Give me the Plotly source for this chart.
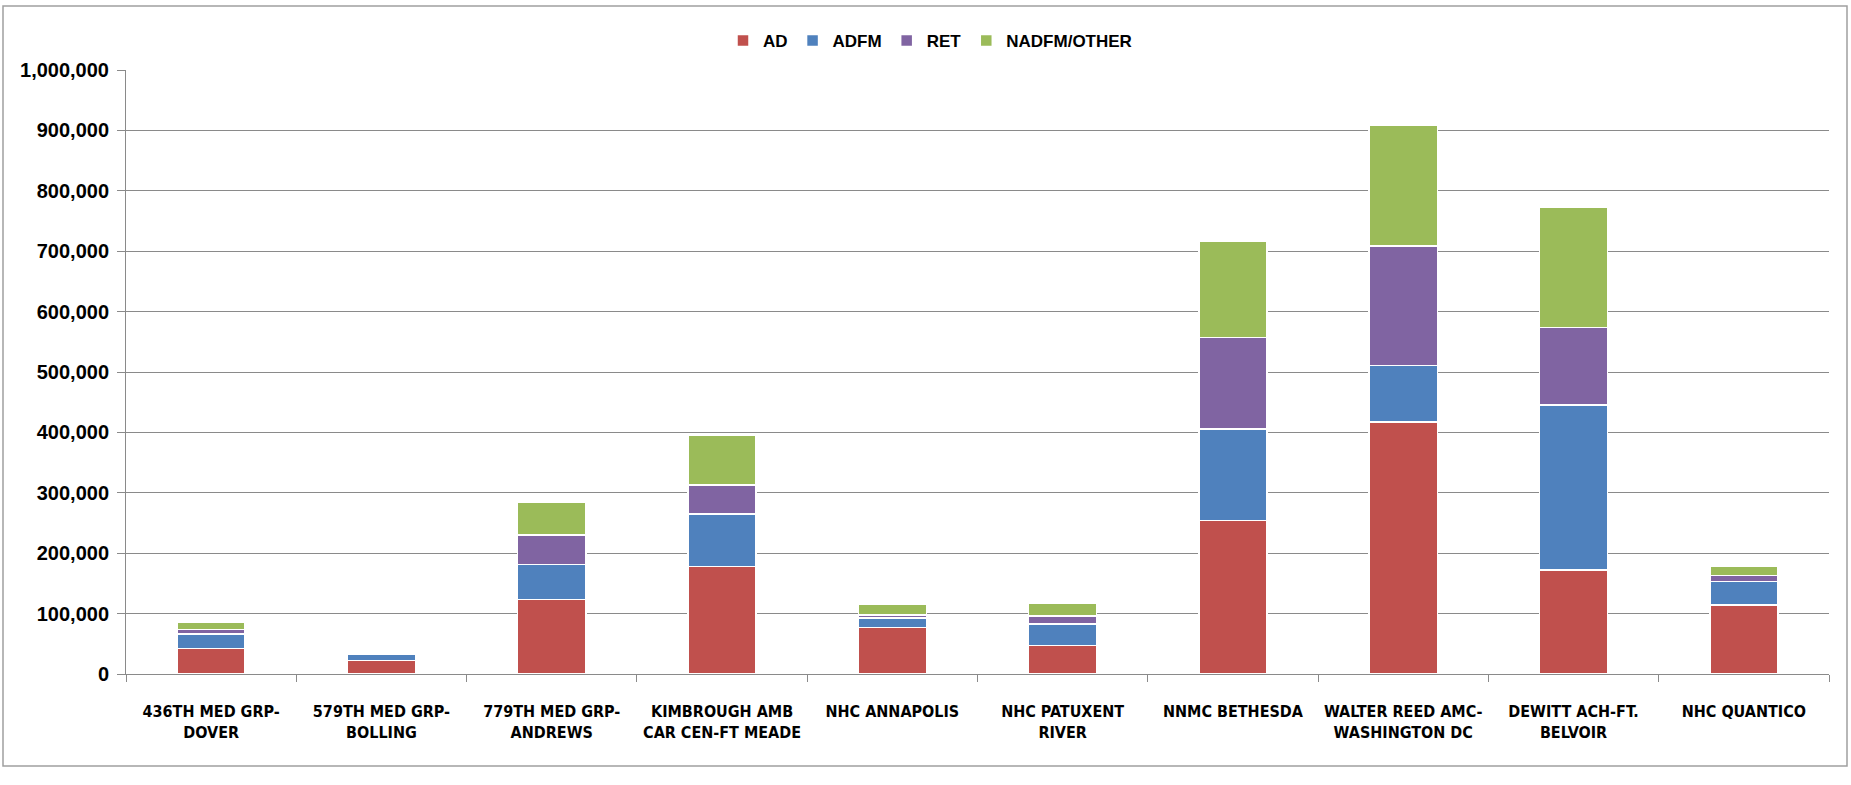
import plotly.graph_objects as go

categories = [
    "436TH MED GRP-<br>DOVER",
    "579TH MED GRP-<br>BOLLING",
    "779TH MED GRP-<br>ANDREWS",
    "KIMBROUGH AMB<br>CAR CEN-FT MEADE",
    "NHC ANNAPOLIS",
    "NHC PATUXENT<br>RIVER",
    "NNMC BETHESDA",
    "WALTER REED AMC-<br>WASHINGTON DC",
    "DEWITT ACH-FT.<br>BELVOIR",
    "NHC QUANTICO",
]
ad = [42000, 22000, 123000, 178000, 77000, 47000, 254000, 417000, 172000, 114000]
adfm = [24000, 11000, 58000, 87000, 16000, 36000, 152000, 94000, 273000, 39000]
ret = [8000, 0, 49000, 48000, 5000, 13000, 151000, 198000, 129000, 10000]
nadfm_other = [11000, 0, 55000, 82000, 17000, 21000, 159000, 200000, 199000, 16000]

series_names = ["AD", "ADFM", "RET", "NADFM/OTHER"]
series_values = [ad, adfm, ret, nadfm_other]
colors = ["#C0504D", "#4F81BD", "#8064A2", "#9BBB59"]

y_ticks = [0, 100000, 200000, 300000, 400000, 500000, 600000, 700000, 800000, 900000, 1000000]
y_ticktext = ["0", "100,000", "200,000", "300,000", "400,000", "500,000",
              "600,000", "700,000", "800,000", "900,000", "1,000,000"]

fig = go.Figure()
for name, vals, col in zip(series_names, series_values, colors):
    fig.add_trace(go.Bar(
        x=categories, y=vals, name=name,
        marker=dict(color=col, line=dict(color="white", width=1.5)),
    ))

W, H = 1851, 785
ml, mr, mt, mb = 126, 22, 70, 111
pw, ph = W - ml - mr, H - mt - mb

def px_x(x):
    return (x - ml) / pw

def px_y(y):
    return (H - mb - y) / ph

label_font = "Liberation Sans Narrow, Arial Narrow, DejaVu Sans Condensed, sans-serif"

fig.update_layout(
    width=W, height=H,
    margin=dict(l=ml, r=mr, t=mt, b=mb, pad=0),
    barmode="stack",
    bargap=0.6,
    paper_bgcolor="white",
    plot_bgcolor="white",
    showlegend=True,
    legend=dict(
        orientation="h", x=px_x(930), xanchor="center", y=px_y(41), yanchor="middle",
        font=dict(family="Liberation Sans, Arial, sans-serif", size=17, color="black", weight="bold"),
        traceorder="normal", bgcolor="rgba(0,0,0,0)", itemclick=False,
    ),
    xaxis=dict(
        type="category",
        showline=True, linecolor="#8a8a8a", linewidth=1,
        ticks="outside", tickson="boundaries", ticklen=7, tickcolor="#8a8a8a",
        showgrid=False,
        ticklabelstandoff=23,
        tickfont=dict(family=label_font, size=16, color="black", weight="bold"),
    ),
    yaxis=dict(
        range=[0, 1000000],
        tickvals=y_ticks, ticktext=y_ticktext,
        showline=True, linecolor="#8a8a8a", linewidth=1,
        ticks="outside", ticklen=8, tickcolor="#8a8a8a",
        showgrid=True, gridcolor="#8a8a8a", gridwidth=1,
        zeroline=False,
        ticklabelstandoff=4,
        tickfont=dict(family="Liberation Sans, Arial, sans-serif", size=20, color="black", weight="bold"),
    ),
    shapes=[
        dict(type="rect", xref="paper", yref="paper",
             x0=px_x(3), x1=px_x(1847), y0=px_y(766), y1=px_y(6),
             line=dict(color="#a0a0a0", width=1.5), fillcolor="rgba(0,0,0,0)", layer="below"),
    ],
)

fig.write_html(
    "out.html",
    config={"displayModeBar": False},
    post_script="document.body.style.margin='0';document.body.style.padding='0';document.body.style.overflow='hidden';",
)
